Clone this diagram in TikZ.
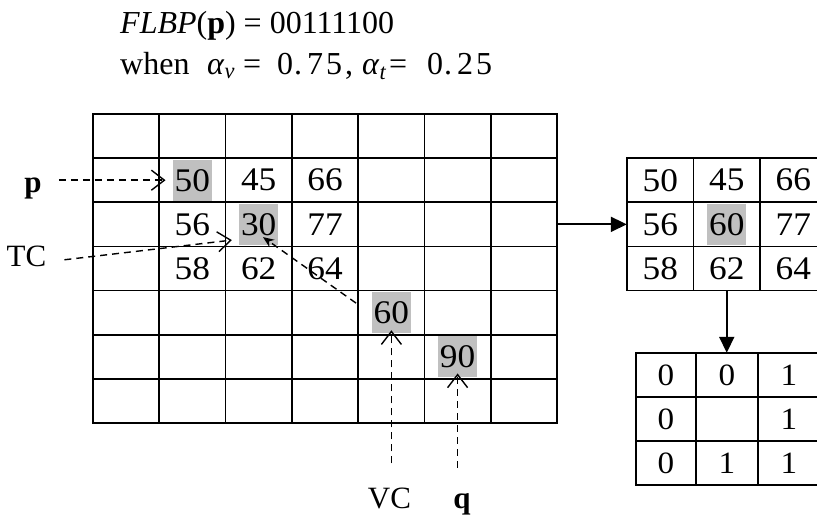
\documentclass[tikz,border=0pt]{standalone}
\usepackage{fontspec}
\setmainfont{Liberation Serif}
\newfontfamily\cellfont[FakeStretch=1.07]{Liberation Serif}
\usetikzlibrary{arrows.meta}

\definecolor{silver}{RGB}{192,192,192}

% fixed-advance pieces for the equation-style second heading line
\newcommand{\piece}[2]{\makebox[#1][l]{#2}}

\tikzset{
  gridline/.style={line width=1.8pt, line cap=rect},
  val/.style={inner sep=0pt, font=\cellfont\fontsize{33}{40}\selectfont},
  bit/.style={inner sep=0pt, font=\cellfont\fontsize{31}{37}\selectfont},
  hl/.style={val, fill=silver, minimum height=41pt, inner xsep=2pt},
  lbl/.style={inner sep=0pt, font=\fontsize{31}{37}\selectfont},
  ttl/.style={inner sep=0pt, anchor=base west, font=\fontsize{32}{38}\selectfont},
  dasharrow/.style={line width=1.4pt, dash pattern=on 7pt off 5pt,
    -{Straight Barb[length=13pt,width=20pt]}},
  linkarrow/.style={line width=1.4pt, dash pattern=on 7pt off 5pt,
    -{Stealth[length=11pt,width=9pt]}},
  solidarrow/.style={line width=1.8pt, -{Triangle[length=16pt,width=15pt]}},
  frame/.style={inner sep=0pt, draw=none}
}

\begin{document}
\begin{tikzpicture}[x=1pt, y=-1pt]
\useasboundingbox (0,0) rectangle (817,529);
\clip (0,0) rectangle (817,529);

% heading
\node[ttl] (t1) at (120,34) {\textit{FLBP}(\textbf{p}) = 00111100};
\node[ttl] (t2) at (120,75) {\piece{87pt}{when}\piece{36pt}{\textit{α}\textsubscript{\textit{v}}}\piece{34pt}{=}\piece{85pt}{0\kern1pt.\kern5pt7\kern3pt5\kern3pt,}\piece{27pt}{\textit{α}\textsubscript{\textit{t}}}\piece{38pt}{=}0\kern1pt.\kern5pt2\kern3pt5};

% 7x7 image grid
\foreach \i in {0,...,7}
  \draw[gridline] ({93+\i*66.286},114) -- ({93+\i*66.286},423);
\foreach \j in {0,...,7}
  \draw[gridline] (93,{114+\j*44.143}) -- (557,{114+\j*44.143});
\node[frame, minimum width=464pt, minimum height=309pt] (G) at (325,268.5) {};

% grid values
\node[hl]  (n50) at (192.4,180.2) {50};
\node[val] (n45) at (258.7,180.2) {45};
\node[val] (n66) at (325.0,180.2) {66};
\node[val] (n56) at (192.4,224.4) {56};
\node[hl]  (n30) at (258.7,224.4) {30};
\node[val] (n77) at (325.0,224.4) {77};
\node[val] (n58) at (192.4,268.5) {58};
\node[val] (n62) at (258.7,268.5) {62};
\node[val] (n64) at (325.0,268.5) {64};
\node[hl]  (n60) at (391.4,312.6) {60};
\node[hl]  (n90) at (457.6,356.8) {90};

% outside labels
\node[lbl, anchor=base] (pl)  at (33,193)   {\textbf{p}};
\node[lbl, anchor=base] (tcl) at (26.5,267) {TC};
\node[lbl, anchor=base] (vcl) at (389.5,508) {VC};
\node[lbl, anchor=base] (ql)  at (462,508)  {\textbf{q}};

% pointers into the grid
\draw[dasharrow, shorten <=17pt, shorten >=7pt] (n50.west -| pl.east) -- (n50.west);
\draw[dasharrow, shorten <=18pt] ([yshift=-5pt]tcl.east) -- ([xshift=-7pt,yshift=5pt]n30.south west);
\draw[linkarrow] ([xshift=-15.5pt,yshift=9.5pt]n60.west) -- ([xshift=4.3pt,yshift=8pt]n30.south);
\draw[dasharrow, shorten <=24pt, shorten >=-3pt] (n60.south |- vcl.north) -- (n60.south);
\draw[dasharrow, shorten <=25pt, shorten >=-4pt] (n90.south |- ql.north) -- (n90.south);

% 3x3 neighbourhood
\foreach \x in {627,693.5,760,826.5}
  \draw[gridline] (\x,158.14) -- (\x,290.57);
\foreach \y in {158.14,202.29,246.43,290.57}
  \draw[gridline] (627,\y) -- (826.5,\y);
\node[frame, minimum width=199.5pt, minimum height=132.43pt] (R) at (726.75,224.36) {};
\node[val] (r11) at (660.25,180.2) {50};
\node[val] (r12) at (726.75,180.2) {45};
\node[val] (r13) at (793.25,180.2) {66};
\node[val] (r21) at (660.25,224.4) {56};
\node[hl]  (r22) at (726.75,224.4) {60};
\node[val] (r23) at (793.25,224.4) {77};
\node[val] (r31) at (660.25,268.5) {58};
\node[val] (r32) at (726.75,268.5) {62};
\node[val] (r33) at (793.25,268.5) {64};

% binary pattern
\foreach \x in {636,696,758,820}
  \draw[gridline] (\x,353) -- (\x,485);
\foreach \y in {353,397,441,485}
  \draw[gridline] (636,\y) -- (820,\y);
\node[frame, minimum width=184pt, minimum height=132pt] (B) at (728,419) {};
\node[bit] (b11) at (666,375) {0};
\node[bit] (b12) at (727,375) {0};
\node[bit] (b13) at (789,375) {1};
\node[bit] (b21) at (666,419) {0};
\node[bit] (b23) at (789,419) {1};
\node[bit] (b31) at (666,463) {0};
\node[bit] (b32) at (727,463) {1};
\node[bit] (b33) at (789,463) {1};

% flow between panels
\draw[solidarrow] (G.east |- R.west) -- (R.west);
\draw[solidarrow] (R.south) -- (R.south |- B.north);
\end{tikzpicture}
\end{document}
